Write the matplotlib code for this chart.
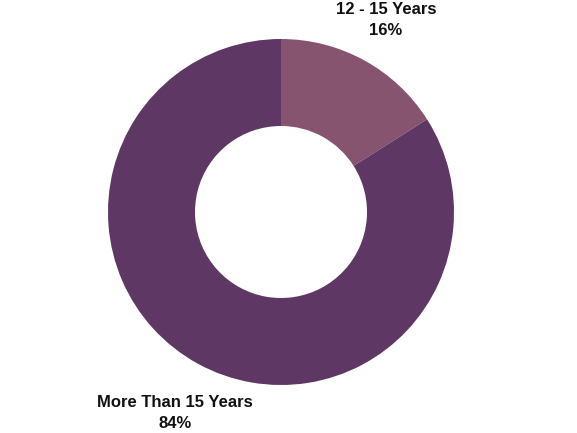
import matplotlib
matplotlib.use("Agg")
import matplotlib.pyplot as plt

categories = ["12 - 15 Years", "More Than 15 Years"]
values = [16, 84]
colors = ["#87546F", "#5E3764"]

plt.rcParams['font.family'] = ['Liberation Sans', 'DejaVu Sans']

fig = plt.figure(figsize=(5.77, 4.33), dpi=100)
ax = fig.add_axes([0, 0, 1, 1])
ax.set_xlim(0, 577)
ax.set_ylim(0, 433)
ax.set_aspect('equal')
ax.axis('off')

ax.pie(values, colors=colors, startangle=90, counterclock=False,
       center=(281, 221), radius=173,
       wedgeprops=dict(width=87, edgecolor='none'))
ax.set_xlim(0, 577)
ax.set_ylim(0, 433)

label_pos = [(386, 413), (175, 20)]
for cat, v, (x, y) in zip(categories, values, label_pos):
    ax.text(x, y, f"{cat}\n{v}%", ha='center', va='center', fontsize=12,
            fontweight='bold', color='#111111', linespacing=1.45)

fig.savefig("out.png", dpi=100)
